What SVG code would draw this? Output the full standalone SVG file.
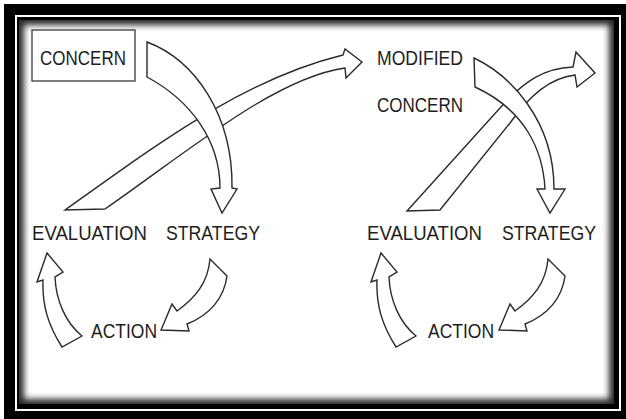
<svg xmlns="http://www.w3.org/2000/svg" width="626" height="419" viewBox="0 0 626 419">
<defs>
<style>
.lbl{font-family:"Liberation Sans",Arial,Helvetica,sans-serif;font-size:21px;fill:#1e1e1e;}
.arr{fill:#fff;stroke:#2a2a2a;stroke-width:1.4;stroke-linejoin:miter;}
.box{fill:#fff;stroke:#3a3a3a;stroke-width:1.3;}
</style>
<filter id="soft" x="-5%" y="-5%" width="110%" height="110%"><feGaussianBlur stdDeviation="3"/></filter>
<clipPath id="panel"><rect x="19" y="20" width="595" height="384"/></clipPath>
</defs>
<g id="frame">
<rect x="0" y="0" width="626" height="419" fill="#fff"/>
<rect x="4" y="4" width="622" height="415" fill="#000"/>
<rect x="15" y="15" width="606" height="396" fill="#fff"/>
<rect x="17" y="17" width="602" height="392" fill="#000"/>
<rect x="19" y="20" width="595" height="384" fill="#2a2a2a"/>
<g clip-path="url(#panel)"><rect x="24" y="25" width="585" height="374" fill="#fff" filter="url(#soft)"/></g>
</g>
<g id="connectors">
<path class="arr" d="M65,210 C150,150 240,80 343,55 L345,49 L362,62 L346,78 L345,68 C275,78 190,150 105,209 Z"/>
<path class="arr" d="M407,211 L500,108 C525,80 545,68 573,67 L576,52 L595,73 L577,87 L575,75 C550,78 530,95 510,123 L440,210 Z"/>
<path class="arr" d="M147,42 C195,60 233,115 232,188 L237,189 L222,213 L211,189 L220,188 C220,140 190,100 147,77 Z"/>
<path class="arr" d="M474,58 C510,75 554,120 554,189 L565,189 L550,213 L537,189 L545,189 C543,150 525,110 475,87 Z"/>
<path id="sa1" class="arr" d="M210,259 C208,283 195,298 177,311 L172,304 L161,330 L189,331 L187,324 C210,315 224,298 227,276 Z"/>
<path id="ae1" class="arr" d="M62,347 C48,325 42,305 43,280 L37,282 L47,253 L63,272 L55,277 C56,300 65,322 82,336 Z"/>
<path class="arr" transform="translate(338,0)" d="M210,259 C208,283 195,298 177,311 L172,304 L161,330 L189,331 L187,324 C210,315 224,298 227,276 Z"/>
<path class="arr" transform="translate(334,0)" d="M62,347 C48,325 42,305 43,280 L37,282 L47,253 L63,272 L55,277 C56,300 65,322 82,336 Z"/>
</g>
<g id="concern">
<rect class="box" x="32" y="30" width="103" height="51"/>
<text class="lbl" x="40" y="65" textLength="86" lengthAdjust="spacingAndGlyphs">CONCERN</text>
</g>
<g id="modified-concern">
<text class="lbl" x="377" y="65" textLength="86" lengthAdjust="spacingAndGlyphs">MODIFIED</text>
<text class="lbl" x="377" y="112" textLength="86" lengthAdjust="spacingAndGlyphs">CONCERN</text>
</g>
<g id="evaluation-1"><text class="lbl" x="32" y="240" textLength="115" lengthAdjust="spacingAndGlyphs">EVALUATION</text></g>
<g id="strategy-1"><text class="lbl" x="166" y="240" textLength="94" lengthAdjust="spacingAndGlyphs">STRATEGY</text></g>
<g id="action-1"><text class="lbl" x="91" y="338" textLength="66" lengthAdjust="spacingAndGlyphs">ACTION</text></g>
<g id="evaluation-2"><text class="lbl" x="367" y="240" textLength="115" lengthAdjust="spacingAndGlyphs">EVALUATION</text></g>
<g id="strategy-2"><text class="lbl" x="502" y="240" textLength="94" lengthAdjust="spacingAndGlyphs">STRATEGY</text></g>
<g id="action-2"><text class="lbl" x="428" y="338" textLength="66" lengthAdjust="spacingAndGlyphs">ACTION</text></g>
</svg>
